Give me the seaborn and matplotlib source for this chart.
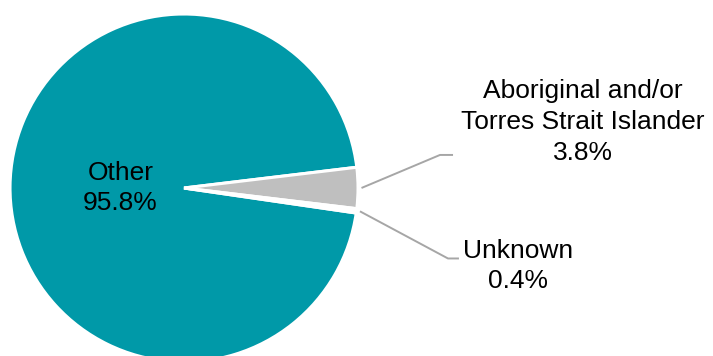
import numpy as np
import matplotlib
matplotlib.use("Agg")
import matplotlib.pyplot as plt
import seaborn as sns

sns.set_theme(style="white")
plt.rcParams["font.family"] = ["Liberation Sans", "DejaVu Sans"]

# Share of records by Indigenous status
categories = ["Other", "Aboriginal and/or\nTorres Strait Islander", "Unknown"]
shares = [95.8, 3.8, 0.4]
slice_colors = ["#0099A8", "#BFBFBF", "#FFFFFF"]

fig = plt.figure(figsize=(7.13, 3.56), dpi=100)
ax = fig.add_axes([0, 0, 1, 1])

wedges, _ = ax.pie(
    shares,
    colors=slice_colors,
    startangle=351.73,
    counterclock=False,
    radius=1.0,
    wedgeprops=dict(edgecolor="white", linewidth=2.2),
)

ax.set_xlim(-1.0575, 3.040)
ax.set_ylim(-0.9655, 1.0805)
ax.set_aspect("equal")
ax.axis("off")

fs = 19.0
spacing = 1.36
leader_color = "#A6A6A6"

# Label inside the large slice
ax.text(-0.365, 0.0, f"{categories[0]}\n{shares[0]:.1f}%", ha="center", va="center",
        fontsize=fs, color="black", linespacing=spacing)

# Outside labels with leader lines
outside = [
    (1, (1.471, 0.190), (1.546, 0.190), (2.293, 0.380), "center"),
    (2, (1.517, -0.405), (1.580, -0.405), (1.920, -0.448), "center"),
]
for idx, bend, end, pos, ha in outside:
    w = wedges[idx]
    mid = np.deg2rad((w.theta1 + w.theta2) / 2)
    start = (1.02 * np.cos(mid), 1.02 * np.sin(mid))
    ax.plot([start[0], bend[0], end[0]], [start[1], bend[1], end[1]],
            color=leader_color, linewidth=1.4, solid_capstyle="butt")
    ax.text(pos[0], pos[1], f"{categories[idx]}\n{shares[idx]:.1f}%", ha=ha, va="center",
            fontsize=fs, color="black", linespacing=spacing)

fig.savefig("out.png", dpi=100, facecolor="white")
